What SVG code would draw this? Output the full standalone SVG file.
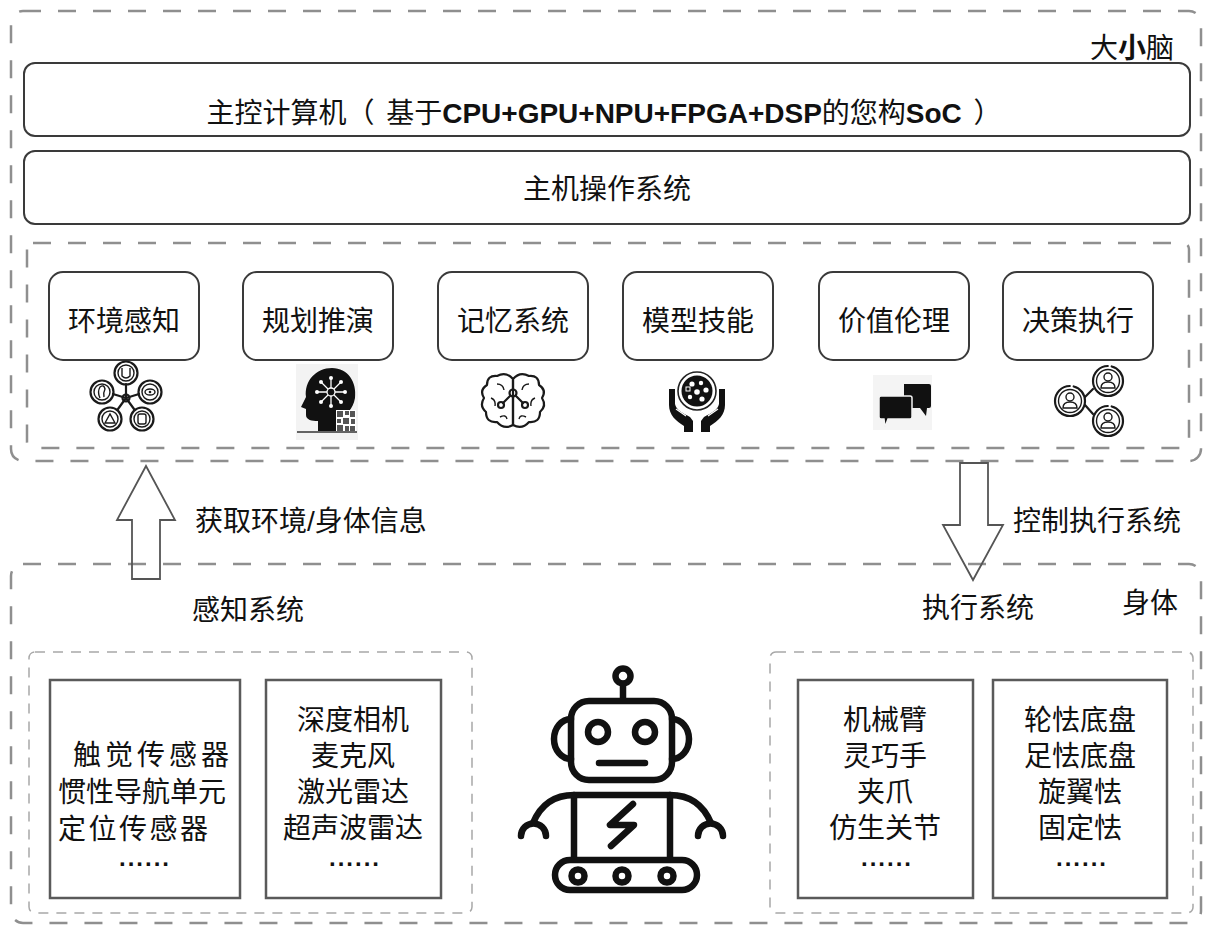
<svg xmlns="http://www.w3.org/2000/svg" width="1205" height="927" viewBox="0 0 1205 927">
  <defs>
    <style>
      text { font-family: "Liberation Sans", "Noto Sans CJK SC", sans-serif; fill: #111; }
      .t28 { font-size: 28px; }
      .mid { text-anchor: middle; }
      .b { font-weight: bold; }
      .dash-outer { fill: none; stroke: #8f8f8f; stroke-width: 2.5; stroke-dasharray: 18 17; }
      .dash-sub { fill: none; stroke: #a8a8a8; stroke-width: 1.5; stroke-dasharray: 10 8; }
      .panel { fill: #fff; stroke: #3a3a3a; stroke-width: 2; }
      .module { fill: #fff; stroke: #3a3a3a; stroke-width: 2; }
      .card { fill: #fff; stroke: #5a5a5a; stroke-width: 2.5; }
      .dots { font-size: 24px; font-weight: bold; letter-spacing: 2px; text-anchor: middle; }
      .ico { fill: none; stroke: #1a1a1a; stroke-width: 2.2; stroke-linecap: round; stroke-linejoin: round; }
      .ico-thin { fill: none; stroke: #1a1a1a; stroke-width: 1.4; }
      .bot { fill: none; stroke: #111; stroke-width: 6.5; stroke-linecap: round; stroke-linejoin: round; }
      .flow { fill: none; stroke: #555; stroke-width: 1.8; stroke-linejoin: miter; }
    </style>
  </defs>

  <rect width="1205" height="927" fill="#fff"/>

  <!-- brain layer -->
  <g id="brain-layer">
    <rect class="dash-outer" x="11" y="11" width="1190" height="450" rx="12"/>
    <text class="t28" x="1090" y="58">大<tspan class="b">小</tspan>脑</text>
  </g>

  <g id="main-computer">
    <rect class="panel" x="24" y="63" width="1166" height="73" rx="11"/>
    <text class="t28 mid" x="604" y="123" word-spacing="4">主控计算机（ 基于<tspan class="b">CPU+GPU+NPU+FPGA+DSP</tspan>的您构<tspan class="b">SoC</tspan> ）</text>
  </g>

  <g id="host-os">
    <rect class="panel" x="24" y="151" width="1166" height="73" rx="11"/>
    <text class="t28 mid" x="607" y="199">主机操作系统</text>
  </g>

  <g id="modules">
    <rect class="dash-outer" x="27" y="243" width="1162" height="205" rx="6"/>
  </g>

  <!-- environment perception -->
  <g id="mod-perception">
    <rect class="module" x="49" y="272" width="150" height="88" rx="14"/>
    <text class="t28 mid" x="124" y="331">环境感知</text>
    <g>
      <path class="ico" d="M126 398 L126 384 M126 398 L139 394 M126 398 L134 409 M126 398 L118 409 M126 398 L113 394"/>
      <circle class="ico" cx="126" cy="398" r="3.5" fill="#fff"/>
      <circle class="ico" cx="126" cy="373" r="11.5" fill="#fff"/>
      <circle class="ico-thin" cx="126" cy="373" r="8"/>
      <path class="ico-thin" d="M122 368 L122 376 Q126 380 130 376 L130 368"/>
      <circle class="ico" cx="150" cy="392" r="11.5" fill="#fff"/>
      <circle class="ico-thin" cx="150" cy="392" r="8"/>
      <ellipse class="ico-thin" cx="150" cy="392" rx="5" ry="3"/>
      <circle cx="150" cy="392" r="1.3" fill="#1a1a1a"/>
      <circle class="ico" cx="142" cy="419" r="11.5" fill="#fff"/>
      <circle class="ico-thin" cx="142" cy="419" r="8"/>
      <rect class="ico-thin" x="138" y="414" width="8" height="10" rx="2"/>
      <circle class="ico" cx="110" cy="419" r="11.5" fill="#fff"/>
      <circle class="ico-thin" cx="110" cy="419" r="8"/>
      <path class="ico-thin" d="M105 423 L110 414 L115 423 Z"/>
      <circle class="ico" cx="102" cy="392" r="11.5" fill="#fff"/>
      <circle class="ico-thin" cx="102" cy="392" r="8"/>
      <path class="ico-thin" d="M100 398 Q97 392 100 387 Q104 384 105 389 Q103 393 104 397"/>
    </g>
  </g>

  <!-- planning -->
  <g id="mod-planning">
    <rect class="module" x="243" y="272" width="150" height="88" rx="14"/>
    <text class="t28 mid" x="318" y="331">规划推演</text>
    <g>
      <rect x="296" y="364" width="62" height="76" fill="#f3f3f3"/>
      <path d="M318 431 L318 421 C312 421 306 420 306 415 L306 409 L301 407 L306 397 C304 381 316 368 332 368 C348 368 357 382 355 398 C353 410 345 414 343 420 L343 431 Z" fill="#111"/>
      <g stroke="#fff" stroke-width="1.3" fill="none">
        <circle cx="331" cy="392" r="4"/>
        <path d="M331 388 L331 378 M331 396 L331 406 M327 392 L317 392 M335 392 L345 392 M328 389 L321 382 M334 389 L341 382 M328 395 L321 402 M334 395 L341 402"/>
      </g>
      <g fill="#fff">
        <circle cx="331" cy="378" r="2"/><circle cx="331" cy="406" r="2"/>
        <circle cx="317" cy="392" r="2"/><circle cx="345" cy="392" r="2"/>
        <circle cx="321" cy="382" r="2"/><circle cx="341" cy="382" r="2"/>
        <circle cx="321" cy="402" r="2"/><circle cx="341" cy="402" r="2"/>
      </g>
      <rect x="336" y="410" width="20" height="22" fill="#fff"/>
      <g fill="#555">
        <rect x="337" y="411" width="6" height="6"/><rect x="345" y="411" width="4" height="4"/><rect x="350" y="411" width="5" height="6"/>
        <rect x="337" y="419" width="4" height="4"/><rect x="343" y="418" width="6" height="6"/><rect x="351" y="419" width="4" height="5"/>
        <rect x="337" y="425" width="6" height="6"/><rect x="345" y="426" width="4" height="5"/><rect x="350" y="426" width="5" height="5"/>
      </g>
      <path d="M297 432 L357 432" stroke="#333" stroke-width="1.5"/>
    </g>
  </g>

  <!-- memory -->
  <g id="mod-memory">
    <rect class="module" x="438" y="272" width="150" height="88" rx="14"/>
    <text class="t28 mid" x="513" y="331">记忆系统</text>
    <g>
      <path class="ico" d="M513 379 Q506 371 497 376 Q487 375 487 385 Q479 390 484 398 Q479 406 486 412 Q486 423 497 422 Q504 430 513 425 Z"/>
      <path class="ico" d="M513 379 Q520 371 529 376 Q539 375 539 385 Q547 390 542 398 Q547 406 540 412 Q540 423 529 422 Q522 430 513 425"/>
      <path class="ico-thin" d="M497 384 Q503 384 504 390 M529 384 Q523 384 522 390 M491 398 Q496 400 495 406 M535 398 Q530 400 531 406 M500 417 Q506 414 507 419 M526 417 Q520 414 519 419"/>
      <path class="ico" d="M513 380 L513 389 M513 397 L513 425 M510 396 L503 403 M516 396 L523 403"/>
      <circle class="ico" cx="513" cy="393" r="3.5"/>
      <circle class="ico" cx="501" cy="405" r="3"/>
      <circle class="ico" cx="525" cy="405" r="3"/>
    </g>
  </g>

  <!-- model skills -->
  <g id="mod-skills">
    <rect class="module" x="623" y="272" width="150" height="88" rx="14"/>
    <text class="t28 mid" x="698" y="331">模型技能</text>
    <g>
      <circle cx="697" cy="391" r="19" fill="none" stroke="#222" stroke-width="1.6"/>
      <circle cx="697" cy="391" r="15.5" fill="#111"/>
      <g fill="#fff">
        <circle cx="692" cy="384" r="2.6"/><circle cx="701" cy="383" r="2.2"/><circle cx="706" cy="390" r="2.6"/>
        <circle cx="697" cy="392" r="2.8"/><circle cx="690" cy="397" r="2.2"/><circle cx="702" cy="399" r="2.6"/>
      </g>
      <rect x="686" y="387" width="4" height="4" fill="none" stroke="#fff" stroke-width="1"/>
      <path d="M669 389 L675 389 L675 404 C676 410 683 413 690 417 L693 421 L693 432 L684 432 L684 426 C676 421 669 415 669 405 Z" fill="#111"/>
      <path d="M725 389 L719 389 L719 404 C718 410 711 413 704 417 L701 421 L701 432 L710 432 L710 426 C718 421 725 415 725 405 Z" fill="#111"/>
      <path d="M676 409 L686 416 M718 409 L708 416" stroke="#fff" stroke-width="1.2"/>
    </g>
  </g>

  <!-- values / ethics -->
  <g id="mod-ethics">
    <rect class="module" x="819" y="272" width="150" height="88" rx="14"/>
    <text class="t28 mid" x="894" y="331">价值伦理</text>
    <g>
      <rect x="873" y="375" width="59" height="55" fill="#f4f4f4"/>
      <path d="M904 384 L929 384 Q931 384 931 386 L931 406 Q931 408 929 408 L927 408 L926 416 L920 408 L904 408 Z" fill="#111"/>
      <path d="M881 396 L910 396 Q912 396 912 398 L912 417 Q912 419 910 419 L888 419 L885 427 L884 419 L881 419 Q879 419 879 417 L879 398 Q879 396 881 396 Z" fill="#111" stroke="#f4f4f4" stroke-width="1.5"/>
    </g>
  </g>

  <!-- decision execution -->
  <g id="mod-decision">
    <rect class="module" x="1003" y="272" width="150" height="88" rx="14"/>
    <text class="t28 mid" x="1078" y="331">决策执行</text>
    <g>
      <path class="ico" d="M1085 397 L1093 389 M1085 405 L1093 414"/>
      <g>
        <circle class="ico" cx="1070" cy="401" r="15" stroke-dasharray="70 4 20 4"/>
        <circle class="ico-thin" cx="1070" cy="401" r="11.5"/>
        <circle class="ico-thin" cx="1070" cy="397" r="4"/>
        <path class="ico-thin" d="M1063 408 Q1063 402 1070 402 Q1077 402 1077 408 Z"/>
      </g>
      <g>
        <circle class="ico" cx="1108" cy="381" r="15" stroke-dasharray="70 4 20 4"/>
        <circle class="ico-thin" cx="1108" cy="381" r="11.5"/>
        <circle class="ico-thin" cx="1108" cy="377" r="4"/>
        <path class="ico-thin" d="M1101 388 Q1101 382 1108 382 Q1115 382 1115 388 Z"/>
      </g>
      <g>
        <circle class="ico" cx="1108" cy="421" r="15" stroke-dasharray="70 4 20 4"/>
        <circle class="ico-thin" cx="1108" cy="421" r="11.5"/>
        <circle class="ico-thin" cx="1108" cy="417" r="4"/>
        <path class="ico-thin" d="M1101 428 Q1101 422 1108 422 Q1115 422 1115 428 Z"/>
      </g>
    </g>
  </g>

  <!-- body layer -->
  <g id="body-layer">
    <rect class="dash-outer" x="11" y="564" width="1190" height="359" rx="12"/>
    <text class="t28" x="1122" y="613">身体</text>
  </g>

  <g id="perception-system">
    <text class="t28" x="192" y="620">感知系统</text>
    <rect class="dash-sub" x="29" y="652" width="443" height="261" rx="6"/>
  </g>

  <g id="sensors-a">
    <rect class="card" x="50" y="680" width="190" height="218"/>
    <text class="t28" x="73" y="765" letter-spacing="4">触觉传感器</text>
    <text class="t28" x="58" y="802">惯性导航单元</text>
    <text class="t28" x="58" y="839" letter-spacing="2.5">定位传感器</text>
    <text class="dots" x="145" y="866">......</text>
  </g>

  <g id="sensors-b">
    <rect class="card" x="266" y="680" width="175" height="218"/>
    <text class="t28 mid" x="353" y="730">深度相机</text>
    <text class="t28 mid" x="353" y="766">麦克风</text>
    <text class="t28 mid" x="353" y="802">激光雷达</text>
    <text class="t28 mid" x="353" y="838">超声波雷达</text>
    <text class="dots" x="355" y="866">......</text>
  </g>

  <g id="execution-system">
    <text class="t28" x="922" y="618">执行系统</text>
    <rect class="dash-sub" x="770" y="652" width="423" height="261" rx="6"/>
  </g>

  <g id="actuators-a">
    <rect class="card" x="798" y="680" width="175" height="218"/>
    <text class="t28 mid" x="885" y="730">机械臂</text>
    <text class="t28 mid" x="885" y="766">灵巧手</text>
    <text class="t28 mid" x="885" y="802">夹爪</text>
    <text class="t28 mid" x="885" y="838">仿生关节</text>
    <text class="dots" x="887" y="866">......</text>
  </g>

  <g id="actuators-b">
    <rect class="card" x="993" y="680" width="174" height="218"/>
    <text class="t28 mid" x="1080" y="730">轮怯底盘</text>
    <text class="t28 mid" x="1080" y="766">足怯底盘</text>
    <text class="t28 mid" x="1080" y="802">旋翼怯</text>
    <text class="t28 mid" x="1080" y="838">固定怯</text>
    <text class="dots" x="1082" y="866">......</text>
  </g>

  <!-- robot figure -->
  <g id="robot">
    <circle class="bot" cx="623" cy="676" r="7.5"/>
    <path class="bot" d="M623 684 L623 700"/>
    <rect class="bot" x="571" y="701" width="101" height="79" rx="18"/>
    <path class="bot" d="M571 719 A 17 20 0 0 0 571 759"/>
    <path class="bot" d="M672 719 A 17 20 0 0 1 672 759"/>
    <circle class="bot" cx="598" cy="732" r="10"/>
    <circle class="bot" cx="645" cy="732" r="10"/>
    <path class="bot" d="M599 763 L645 763"/>
    <path class="bot" d="M574 795 L574 858 M670 795 L670 858"/>
    <path class="bot" d="M533 823 C541 804 554 795 574 795 L670 795 C690 795 703 804 711 823"/>
    <path class="bot" d="M521 836 A 12.5 12.5 0 0 1 546 836"/>
    <path class="bot" d="M698 836 A 12.5 12.5 0 0 1 723 836"/>
    <path class="bot" d="M633 804 L610 825 L634 825 L611 846"/>
    <rect class="bot" x="555" y="860" width="142" height="30" rx="15"/>
    <circle class="bot" cx="578" cy="876" r="6.5" stroke-width="5.5"/>
    <circle class="bot" cx="622" cy="876" r="6.5" stroke-width="5.5"/>
    <circle class="bot" cx="667" cy="876" r="6.5" stroke-width="5.5"/>
  </g>

  <!-- flows between body and brain -->
  <g id="connectors">
    <g id="flow-up">
      <path class="flow" d="M146 466 L175 520 L160 520 L160 579 L132 579 L132 520 L117 520 Z"/>
      <text class="t28" x="195" y="531">获取环境/身体信息</text>
    </g>
    <g id="flow-down">
      <path class="flow" d="M960 463 L988 463 L988 525 L1003 525 L973 580 L943 525 L960 525 Z"/>
      <text class="t28" x="1013" y="531">控制执行系统</text>
    </g>
  </g>
</svg>
